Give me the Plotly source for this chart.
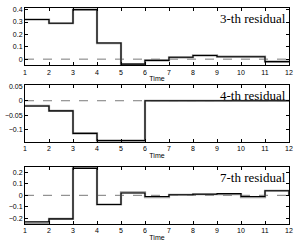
import plotly.graph_objects as go

time = list(range(1, 13))

# 3-th residual
r3_black = [0.32, 0.29, 0.40, 0.13, -0.04, -0.01, 0.015, 0.03, 0.02, 0.02, -0.02, -0.02]
r3_gray = [0.32, 0.29, 0.40, 0.13, -0.04, -0.01, 0.015, 0.03, 0.02, 0.02, -0.02, -0.02]
# 4-th residual
r4_black = [-0.018, -0.035, -0.113, -0.138, -0.138, 0.0, 0.0, 0.0, 0.0, 0.0, 0.0, 0.0]
r4_gray = [-0.018, -0.035, -0.113, -0.138, -0.138, 0.0, 0.0, 0.0, 0.0, 0.0, 0.0, 0.0]
# 7-th residual
r7_black = [-0.23, -0.205, 0.235, -0.08, 0.02, -0.01, 0.005, 0.01, 0.015, -0.01, 0.04, 0.0]
r7_gray = [-0.24, -0.205, 0.245, -0.08, 0.025, -0.015, 0.005, 0.01, 0.01, -0.015, 0.04, 0.0]

titles = ["3-th residual", "4-th residual", "7-th residual"]
y_ranges = [[-0.05, 0.413], [-0.142, 0.053], [-0.25, 0.25]]
y_ticks = [[0, 0.1, 0.2, 0.3, 0.4], [-0.1, -0.05, 0, 0.05], [-0.2, -0.1, 0, 0.1, 0.2]]
y_ticktext = [["0", "0.1", "0.2", "0.3", "0.4"], ["\u22120.1", "\u22120.05", "0", "0.05"],
              ["\u22120.2", "\u22120.1", "0", "0.1", "0.2"]]
zero_x = [1, 12]
zero_y = [0, 0]

domains = [[0.7345, 1.0], [0.3805, 0.6416], [0.0, 0.2655]]
blacks = [r3_black, r4_black, r7_black]
grays = [r3_gray, r4_gray, r7_gray]

fig = go.Figure()
for i in range(3):
    xa = "x" if i == 0 else f"x{i+1}"
    ya = "y" if i == 0 else f"y{i+1}"
    fig.add_trace(go.Scatter(x=zero_x, y=zero_y, mode="lines", xaxis=xa, yaxis=ya,
                             line=dict(color="#7a7a7a", width=1, dash="dash"), showlegend=False,
                             hoverinfo="skip"))
    fig.add_trace(go.Scatter(x=time, y=grays[i], mode="lines", line_shape="hv", xaxis=xa, yaxis=ya,
                             line=dict(color="#999999", width=2.2), showlegend=False))
    fig.add_trace(go.Scatter(x=time, y=blacks[i], mode="lines", line_shape="hv", xaxis=xa, yaxis=ya,
                             line=dict(color="#000000", width=1.1), showlegend=False))

layout = dict(
    width=299, height=245,
    margin=dict(l=21, r=10, t=5, b=14),
    paper_bgcolor="white", plot_bgcolor="white",
    font=dict(family="Liberation Sans, Arial, sans-serif", size=7, color="black"),
)
axis_common = dict(showline=True, linecolor="black", linewidth=1, mirror="ticks",
                   ticks="inside", ticklen=3, tickcolor="black", showgrid=False, zeroline=False,
                   tickfont=dict(size=7))
for i in range(3):
    xk = "xaxis" if i == 0 else f"xaxis{i+1}"
    yk = "yaxis" if i == 0 else f"yaxis{i+1}"
    ya = "y" if i == 0 else f"y{i+1}"
    xa = "x" if i == 0 else f"x{i+1}"
    layout[xk] = dict(axis_common, range=[1, 12], tickvals=time, anchor=ya, domain=[0, 1],
                      title=dict(text="Time", font=dict(size=7), standoff=1))
    layout[yk] = dict(axis_common, range=y_ranges[i], tickvals=y_ticks[i], ticktext=y_ticktext[i],
                      anchor=xa, domain=domains[i])
fig.update_layout(**layout)

for i in range(3):
    fig.add_annotation(text=titles[i], xref="paper", yref="paper", x=0.995, y=domains[i][1] - 0.005,
                       xanchor="right", yanchor="top", showarrow=False,
                       font=dict(family="Liberation Serif, Times New Roman, serif", size=13, color="black"))

fig.write_html("out.html", config={"displayModeBar": False},
               post_script="document.body.style.margin='0';document.body.style.overflow='hidden';")
